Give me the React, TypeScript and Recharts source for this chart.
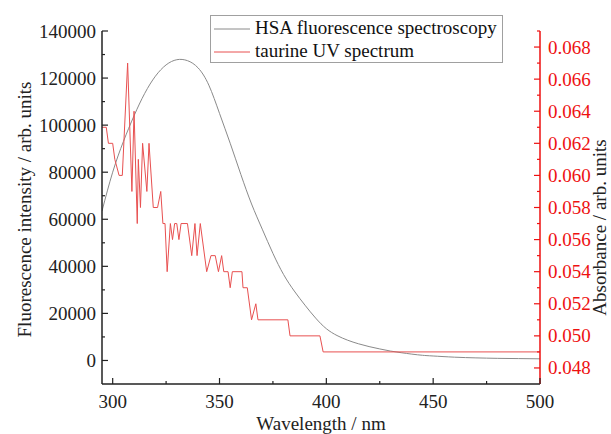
import { LineChart, Line, XAxis, YAxis, Legend, Label } from "recharts";

// HSA fluorescence emission (left axis)
const HSA_NM = [
  295, 300, 305, 310, 315, 320, 325, 330, 335, 340, 345, 350, 355, 360, 365, 370, 375, 380, 385,
  390, 395, 400, 405, 410, 415, 420, 425, 430, 435, 440, 445, 450, 460, 470, 480, 490, 500,
];
const HSA_INTENSITY = [
  63500, 80000, 93000, 104000, 113500, 120800, 125600, 127800, 127400, 124300, 117000, 105000,
  92300, 79000, 66500, 55800, 45500, 36500, 29500, 23500, 18000, 13500, 10600, 8600, 7100, 5900,
  4900, 4000, 3300, 2700, 2200, 1900, 1400, 1100, 900, 800, 700,
];

// taurine UV absorbance (right axis)
const UV_NM = [
  295, 297, 298, 300, 301, 303, 304.5, 307, 309, 310, 311.5, 312, 313, 314, 316, 317, 319, 321,
  322.5, 323.5, 324.5, 325.5, 327, 328, 329, 330, 331, 332, 335, 337, 338.5, 339.5, 341, 344, 346,
  348, 349.5, 351, 352, 354, 355, 356, 360.5, 361, 363, 365, 367, 368, 382, 383, 397, 398.5, 500,
];
const UV_ABS = [
  0.063, 0.063, 0.062, 0.062, 0.061, 0.06, 0.06, 0.067, 0.059, 0.064, 0.057, 0.061, 0.058, 0.062,
  0.059, 0.062, 0.058, 0.058, 0.059, 0.057, 0.057, 0.054, 0.057, 0.056, 0.057, 0.057, 0.056, 0.057,
  0.057, 0.055, 0.057, 0.055, 0.057, 0.054, 0.055, 0.055, 0.054, 0.055, 0.054, 0.054, 0.053, 0.054,
  0.054, 0.053, 0.053, 0.051, 0.052, 0.051, 0.051, 0.05, 0.05, 0.049, 0.049,
];

const X_TICKS = [300, 325, 350, 375, 400, 425, 450, 475, 500];
const LEFT_TICKS = [
  0, 10000, 20000, 30000, 40000, 50000, 60000, 70000, 80000, 90000, 100000, 110000, 120000, 130000,
  140000,
];
const RIGHT_TICKS = [
  0.048, 0.049, 0.05, 0.051, 0.052, 0.053, 0.054, 0.055, 0.056, 0.057, 0.058, 0.059, 0.06, 0.061,
  0.062, 0.063, 0.064, 0.065, 0.066, 0.067, 0.068, 0.069,
];

const hsaData = HSA_NM.map((nm, i) => ({ nm, intensity: HSA_INTENSITY[i] }));
const uvData = UV_NM.map((nm, i) => ({ nm, abs: UV_ABS[i] }));

const FONT = "'Liberation Serif', 'Times New Roman', serif";
const INK = "#222";
const RED = "#ee1111";
const textStyle = { fontFamily: FONT, fontSize: 19 };

function BottomTick(props: any) {
  const { x, y, payload } = props;
  const major = payload.value % 50 === 0;
  return (
    <g>
      <line x1={x} x2={x} y1={y} y2={y - (major ? 6 : 3)} stroke={INK} strokeWidth={1.2} />
      {major && (
        <text x={x} y={y + 24} textAnchor="middle" style={textStyle} fill={INK}>
          {payload.value}
        </text>
      )}
    </g>
  );
}

function LeftTick(props: any) {
  const { x, y, payload } = props;
  const major = payload.value % 20000 === 0;
  return (
    <g>
      <line x1={x} x2={x + (major ? 6 : 3)} y1={y} y2={y} stroke={INK} strokeWidth={1.2} />
      {major && (
        <text x={x - 6} y={y + 6.5} textAnchor="end" style={textStyle} fill={INK}>
          {payload.value}
        </text>
      )}
    </g>
  );
}

function RightTick(props: any) {
  const { x, y, payload } = props;
  const major = Math.round(payload.value * 1000) % 2 === 0;
  return (
    <g>
      <line x1={x} x2={x - (major ? 6 : 3)} y1={y} y2={y} stroke={RED} strokeWidth={1.2} />
      {major && (
        <text x={x + 8} y={y + 6.5} textAnchor="start" style={textStyle} fill={RED}>
          {payload.value.toFixed(3)}
        </text>
      )}
    </g>
  );
}

function LegendBox({ payload }: any) {
  return (
    <div
      style={{
        width: 291,
        height: 46,
        border: "1px solid #a0a0a0",
        background: "#fff",
        fontFamily: FONT,
        fontSize: 19,
        color: "#111",
        lineHeight: "22px",
      }}
    >
      {(payload || []).map((p: any) => (
        <div key={p.value} style={{ display: "flex", alignItems: "center", height: 22, marginTop: 1 }}>
          <svg width={44} height={22}>
            <line x1={3} x2={39} y1={12} y2={12} stroke={p.color} strokeWidth={1} />
          </svg>
          <span>{p.value}</span>
        </div>
      ))}
    </div>
  );
}

export default function App() {
  return (
    <div style={{ position: "absolute", left: 0, top: 0, width: 611, height: 434, background: "#fff" }}>
      <LineChart width={611} height={434} margin={{ top: 31, right: 0, bottom: 0, left: 0 }}>
        <XAxis
          type="number"
          dataKey="nm"
          domain={[295, 500]}
          ticks={X_TICKS}
          interval={0}
          allowDataOverflow
          height={50}
          tickSize={0}
          tickMargin={0}
          tickLine={false}
          tick={<BottomTick />}
          axisLine={{ stroke: INK, strokeWidth: 1.5 }}
        >
          <Label
            content={(p: any) => (
              <text
                x={p.viewBox.x + p.viewBox.width / 2}
                y={p.viewBox.y + 46}
                textAnchor="middle"
                style={textStyle}
                fill={INK}
              >
                Wavelength / nm
              </text>
            )}
          />
        </XAxis>
        <YAxis
          yAxisId="left"
          orientation="left"
          domain={[-10000, 140000]}
          ticks={LEFT_TICKS}
          interval={0}
          allowDataOverflow
          width={102}
          tickSize={0}
          tickMargin={0}
          tickLine={false}
          tick={<LeftTick />}
          axisLine={{ stroke: INK, strokeWidth: 1.5 }}
        >
          <Label
            content={(p: any) => {
              const cx = p.viewBox.x + 24;
              const cy = p.viewBox.y + p.viewBox.height / 2 + 2;
              return (
                <text
                  x={cx}
                  y={cy}
                  transform={`rotate(-90 ${cx} ${cy})`}
                  textAnchor="middle"
                  dominantBaseline="central"
                  style={textStyle}
                  fill={INK}
                >
                  Fluorescence intensity / arb. units
                </text>
              );
            }}
          />
        </YAxis>
        <YAxis
          yAxisId="right"
          orientation="right"
          domain={[0.047, 0.069]}
          ticks={RIGHT_TICKS}
          interval={0}
          allowDataOverflow
          width={71}
          tickSize={0}
          tickMargin={0}
          tickLine={false}
          tick={<RightTick />}
          axisLine={{ stroke: RED, strokeWidth: 1.5 }}
        >
          <Label
            content={(p: any) => {
              const cx = p.viewBox.x + 59;
              const cy = p.viewBox.y + p.viewBox.height / 2 + 20;
              return (
                <text
                  x={cx}
                  y={cy}
                  transform={`rotate(-90 ${cx} ${cy})`}
                  textAnchor="middle"
                  dominantBaseline="central"
                  style={textStyle}
                  fill={INK}
                >
                  Absorbance / arb. units
                </text>
              );
            }}
          />
        </YAxis>
        <Legend
          layout="vertical"
          align="center"
          verticalAlign="middle"
          content={<LegendBox />}
          wrapperStyle={{ left: 210, top: 15, width: 293, height: 48 }}
        />
        <Line
          yAxisId="left"
          data={hsaData}
          dataKey="intensity"
          name="HSA fluorescence spectroscopy"
          type="natural"
          stroke="#8a8a8a"
          strokeWidth={1}
          dot={false}
          isAnimationActive={false}
        />
        <Line
          yAxisId="right"
          data={uvData}
          dataKey="abs"
          name="taurine UV spectrum"
          type="linear"
          stroke="#e85050"
          strokeWidth={1}
          dot={false}
          isAnimationActive={false}
        />
      </LineChart>
    </div>
  );
}
